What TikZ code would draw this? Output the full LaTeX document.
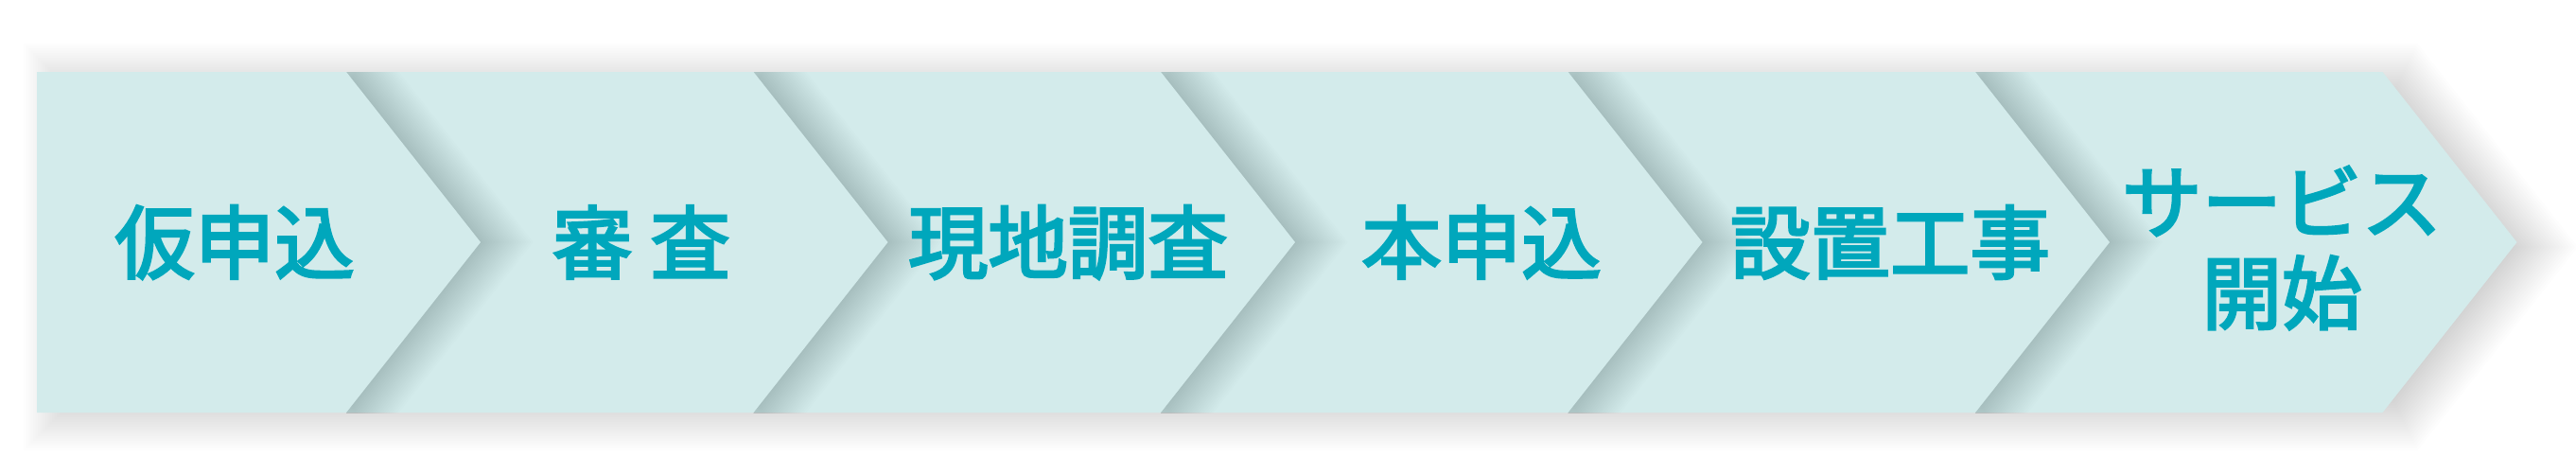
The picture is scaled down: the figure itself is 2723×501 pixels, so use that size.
\documentclass[tikz,border=0pt]{standalone}
\usepackage{fontspec}
\newfontfamily\cjk{Noto Sans CJK JP}[FakeBold=3.2]
\definecolor{chevfill}{RGB}{211,235,235}
\definecolor{chevtext}{RGB}{0,167,188}
\begin{document}
\begin{tikzpicture}[x=1pt,y=-1pt,
  chev/.style={fill=chevfill},
  outershadow/.style={fill=black, fill opacity=0.0086},
  innershadow/.style={fill=black, fill opacity=0.0092},
  lbl/.style={text=chevtext, font=\cjk\fontsize{84.5pt}{96pt}\selectfont,
    align=center, inner sep=0pt}]
\useasboundingbox[fill=white] (0,0) rectangle (2723,501);
% soft shadow of the whole band on the white background
\foreach \r in {-20,-17.5,...,35} {
  \pgfmathsetmacro\la{60-\r}
  \pgfmathsetmacro\ta{2518.5+0.485*\r+20}
  \pgfmathsetmacro\pa{2660.5+1.274*\r+20}
  \pgfmathsetmacro\ya{76-\r+5}
  \pgfmathsetmacro\yb{436+\r+5}
  \pgfmathsetmacro\ym{256+5}
  \path[outershadow] (\la,\ya) -- (\ta,\ya) -- (\pa,\ym) -- (\ta,\yb) -- (\la,\yb) -- cycle;
}
% chevrons, drawn from right to left; each casts a shadow on the next one
\foreach \i in {5,4,...,0} {
  \pgfmathsetmacro\L{\i==0 ? 39 : 366+430.5*(\i-1)}
  \pgfmathsetmacro\T{366+430.5*\i}
  \pgfmathsetmacro\P{508+430.5*\i}
  \ifnum\i<5
  \begin{scope}
    \clip (\T,76) rectangle (\T+260,436);
    \foreach \r in {-12,-10,...,36} {
      \pgfmathsetmacro\ta{\T+0.485*\r+10}
      \pgfmathsetmacro\pa{\P+1.274*\r+10}
      \pgfmathsetmacro\ya{76-\r}
      \pgfmathsetmacro\yb{436+\r}
      \path[innershadow] (\L,\ya) -- (\ta,\ya) -- (\pa,256) -- (\ta,\yb) -- (\L,\yb) -- cycle;
    }
  \end{scope}
  \fi
  \path[chev] (\L,76) -- (\T,76) -- (\P,256) -- (\T,436) -- (\L,436) -- cycle;
}
\node[lbl] (s1) at (248,256) {仮申込};
\node[lbl] (s2) at (678,256) {審 査};
\node[lbl] (s3) at (1129,256) {現地調査};
\node[lbl] (s4) at (1566,256) {本申込};
\node[lbl] (s5) at (1998,256) {設置工事};
\node[lbl] (s6) at (2412,262) {サービス\\開始};
\end{tikzpicture}
\end{document}
